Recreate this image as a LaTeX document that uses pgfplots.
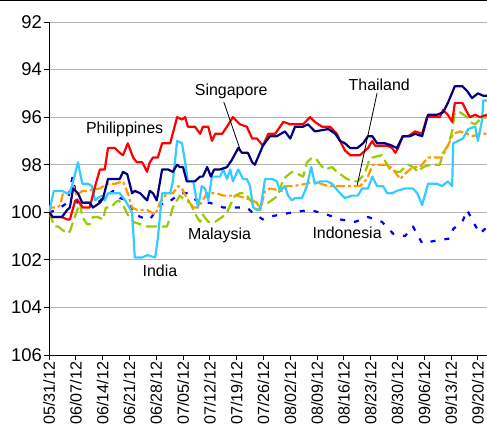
\documentclass[border=0pt]{standalone}
\usepackage{pgfplots}
\pgfplotsset{compat=1.18}
\usepackage{fontspec}
\setmainfont{Liberation Sans}
\definecolor{cPHL}{HTML}{FF0000}
\definecolor{cSGP}{HTML}{000080}
\definecolor{cIND}{HTML}{33CCFF}
\definecolor{cTHA}{HTML}{FF9900}
\definecolor{cMYS}{HTML}{99CC00}
\definecolor{cIDN}{HTML}{0000FF}
\definecolor{cgrid}{HTML}{B4B4B4}
\begin{document}
\begin{tikzpicture}
\begin{axis}[
  at={(0,0)}, anchor=south west,
  scale only axis, width=438bp, height=333bp,
  xmin=0, xmax=81.7, ymin=92, ymax=106, y dir=reverse,
  axis x line*=bottom, axis y line*=left,
  axis line style={black, line width=0.9bp, -},
  ytick={92,94,...,106},
  xtick={0,5,...,80},
  xticklabels={05/31/12,06/07/12,06/14/12,06/21/12,06/28/12,07/05/12,07/12/12,07/19/12,07/26/12,08/02/12,08/09/12,08/16/12,08/23/12,08/30/12,09/06/12,09/13/12,09/20/12},
  x tick label style={rotate=90, anchor=east, font=\fontsize{16.2}{18}\selectfont, inner sep=1.5bp},
  y tick label style={font=\fontsize{18.5}{20}\selectfont, inner sep=2bp},
  /pgf/number format/assume math mode=true,
  tick align=outside, major tick length=5bp,
  tick style={black, line width=0.8bp},
  ymajorgrids, major grid style={cgrid, line width=1bp},
  every axis plot/.append style={line width=2.2bp, line join=round},
  clip=true,
]
% Indonesia
\addplot[cIDN, dash pattern=on 5bp off 9bp] coordinates {
(0,100) (1.5,99.9) (3.4,99.6) (4.4,98.5) (5.4,99.7) (6.5,99.6) (9.1,99.6) (10.1,99.4) (12.0,99.1) (13.2,99.4) (14.7,99.5) (15.7,100.0) (16.0,100.1) (18.3,100.3) (18.8,100.3) (20.1,99.9) (21.3,99.6) (22.2,99.6) (23.9,99.3) (24.8,99.2) (25.7,99.2) (26.7,99.4) (27.6,99.5) (28.7,99.6) (30.0,99.6) (31.3,99.7) (32.5,99.8) (34.3,99.8) (36.9,99.8) (37.9,100.0) (39.9,100.3) (40.7,100.2) (43.1,100.1) (45.5,100.0) (48.7,99.9) (51.9,100.1) (54.3,100.3) (57.1,100.4) (59.5,100.2) (62.1,100.4) (64.2,100.9) (66.4,101.0) (67.9,100.6) (69.6,101.3) (72.0,101.2) (74.8,101.1) (75.4,100.7) (77.1,100.4) (78.0,99.9) (79.1,100.4) (80.4,100.9) (81.3,100.7) (81.7,100.8)
};
% Malaysia
\addplot[cMYS, dash pattern=on 11bp off 5bp] coordinates {
(0,100) (0.7,100.4) (1.1,100.6) (1.7,100.6) (3.4,100.9) (3.9,100.8) (4.5,100.4) (5.2,99.95) (5.8,99.6) (6.2,100.2) (7.1,100.5) (7.6,100.5) (8.2,100.2) (9.1,100.2) (10.1,100.3) (10.6,99.8) (11.6,99.8) (12.3,99.6) (13.0,99.5) (13.8,99.7) (14.7,100.1) (15.7,100.4) (18.3,100.6) (19.8,100.6) (22.0,100.6) (22.6,100.2) (23.1,99.8) (24.4,99.3) (25.4,99.5) (26.3,99.6) (27.6,100.2) (28.2,100.4) (28.7,100.1) (29.7,100.4) (31.0,100.4) (32.3,100.2) (33.2,100.0) (33.8,99.7) (34.7,99.3) (35.6,99.2) (36.6,99.2) (37.9,99.6) (38.1,99.8) (39.0,99.9) (39.9,99.6) (40.9,99.6) (42.7,99.3) (43.7,98.6) (45.3,98.3) (46.5,98.4) (47.4,98.5) (48.1,97.9) (49.1,97.7) (50.0,97.8) (50.6,98.0) (51.5,98.2) (52.8,98.1) (53.7,98.3) (55.6,98.6) (56.7,98.7) (57.6,98.7) (58.4,98.5) (59.0,98.3) (59.3,98.1) (59.9,97.7) (60.3,97.7) (62.1,97.6) (63.1,98.0) (63.6,98.2) (64.9,98.3) (65.5,98.3) (66.4,98.1) (67.0,98.0) (67.9,98.1) (68.8,98.3) (69.8,98.1) (71.1,98.0) (72.9,98.0) (73.5,97.5) (74.4,97.2) (75.2,96.6) (75.7,95.8) (76.7,95.8) (78.0,96.0) (78.5,96.2) (79.5,96.3) (80.4,96.1) (81.7,96.0)
};
% Thailand
\addplot[cTHA, dash pattern=on 9bp off 3bp on 3bp off 3bp] coordinates {
(0,100) (0.4,99.8) (1.5,99.8) (2.1,99.7) (2.6,99.2) (3.5,99.2) (4.5,98.9) (5.2,99.3) (6.2,99.1) (7.1,99.1) (9.5,99.0) (10.8,98.8) (12.3,98.8) (13.8,98.7) (14.7,99.2) (15.5,99.8) (16.4,99.9) (18.3,99.9) (19.8,100.1) (20.7,99.6) (22.0,99.2) (23.1,99.2) (24.1,98.9) (24.8,99.0) (25.7,99.4) (26.9,99.8) (27.8,99.8) (29.5,99.2) (31.3,99.2) (32.5,99.3) (35.1,99.3) (36.6,99.4) (37.9,99.5) (38.8,99.6) (39.4,99.9) (40.3,99.1) (41.2,99.0) (43.5,99.1) (44.4,98.9) (45.5,98.9) (48.1,98.8) (49.3,98.7) (52.1,98.9) (58.0,98.9) (59.3,98.6) (60.4,98.0) (63.2,98.0) (64.2,98.2) (65.5,98.6) (66.8,98.3) (67.9,98.1) (69.2,98.1) (70.7,97.7) (73.3,97.7) (74.4,97.2) (75.4,96.7) (76.7,96.6) (79.1,96.8) (80.4,96.7) (81.7,96.7)
};
% India
\addplot[cIND] coordinates {
(0,100) (0.9,99.1) (2.4,99.1) (3.4,99.2) (3.9,99.2) (4.5,98.7) (5.4,97.9) (6.2,98.8) (7.3,98.8) (8.0,98.9) (8.6,99.5) (9.1,99.4) (9.9,99.3) (10.4,99.5) (11.0,99.2) (13.2,99.2) (14.2,99.5) (15.5,100.0) (16.0,101.9) (17.4,101.9) (18.3,101.8) (19.8,101.9) (20.3,101.1) (21.1,99.2) (22.6,99.2) (23.1,98.7) (23.9,97.0) (24.8,97.1) (25.4,97.9) (25.9,98.7) (26.9,98.7) (27.8,99.8) (28.5,98.9) (29.1,99.0) (29.7,99.5) (30.4,98.5) (31.9,98.5) (32.5,98.2) (33.2,98.6) (33.8,98.2) (34.3,98.7) (35.3,98.2) (36.2,98.6) (36.9,98.6) (37.5,98.9) (38.1,99.8) (38.8,99.9) (39.4,99.9) (40.3,98.6) (41.6,98.6) (42.5,98.7) (43.1,99.1) (44.0,98.9) (44.6,99.3) (45.3,99.5) (45.9,99.4) (47.2,99.4) (48.1,98.9) (48.9,98.1) (49.6,98.8) (50.6,98.7) (51.9,98.7) (52.8,98.8) (53.9,99.1) (54.7,99.3) (55.2,99.4) (56.5,99.3) (57.6,99.3) (58.4,99.0) (59.5,99.0) (60.3,98.5) (61.2,98.9) (62.3,98.9) (63.1,99.2) (64.0,99.2) (64.9,99.1) (66.4,99.0) (67.9,99.0) (68.7,99.2) (69.6,99.7) (70.7,98.8) (72.4,98.8) (73.3,98.9) (74.4,98.7) (75.2,98.9) (75.4,97.1) (77.2,96.9) (78.2,96.5) (79.5,96.4) (80.0,97.0) (80.8,96.1) (81.0,95.3) (81.7,95.3)
};
% Philippines
\addplot[cPHL] coordinates {
(0,100.0) (0.7,100.2) (2.4,100.2) (3.4,100.3) (3.9,100.3) (4.9,99.5) (5.4,99.5) (6.3,99.8) (7.6,99.8) (8.6,98.9) (9.5,98.2) (10.4,98.2) (11.0,97.3) (12.3,97.3) (13.2,97.5) (13.8,97.6) (14.7,97.1) (15.7,97.7) (16.4,97.9) (17.4,97.9) (18.3,98.3) (18.8,97.9) (19.4,97.7) (20.3,97.7) (21.1,97.1) (22.6,97.1) (23.9,96.0) (24.8,96.1) (25.4,96.0) (25.9,96.4) (27.2,96.4) (28.2,96.7) (28.7,96.4) (29.7,96.4) (30.4,97.0) (31.0,96.7) (32.3,96.7) (33.2,96.4) (34.3,96.0) (35.6,96.3) (36.9,96.4) (37.9,96.9) (38.8,96.9) (39.9,97.2) (40.9,96.7) (42.2,96.7) (43.7,96.2) (45.0,96.3) (47.4,96.3) (48.7,96.0) (49.6,96.2) (50.9,96.4) (52.4,96.4) (53.7,96.7) (54.3,97.0) (55.2,97.4) (56.2,97.6) (58.0,97.6) (59.5,97.3) (60.3,97.0) (60.8,97.2) (63.1,97.2) (64.0,97.3) (64.6,97.5) (65.1,97.3) (66.0,96.8) (67.0,96.8) (68.3,96.6) (69.6,96.7) (70.5,96.0) (72.9,96.0) (73.5,95.7) (74.4,95.9) (75.2,96.2) (75.7,95.4) (77.1,95.4) (78.0,95.8) (78.5,96.0) (79.5,95.9) (80.4,96.0) (81.7,95.9)
};
% Singapore
\addplot[cSGP] coordinates {
(0,100) (0.7,100.2) (2.4,100.2) (3.4,99.9) (3.9,99.8) (4.5,99.0) (5.4,99.2) (6.2,99.6) (7.6,99.6) (8.2,99.8) (9.5,99.6) (10.1,99.4) (11.0,98.6) (12.3,98.6) (13.2,98.6) (13.8,98.3) (14.6,98.4) (15.5,99.2) (16.0,99.1) (17.0,99.2) (18.3,99.5) (18.8,99.1) (19.4,99.2) (20.1,99.5) (21.1,98.2) (22.2,98.2) (23.1,98.3) (23.9,98.0) (24.4,98.1) (25.0,98.1) (25.7,98.7) (27.2,98.7) (28.2,98.5) (28.7,98.5) (29.5,98.1) (30.2,98.5) (30.8,98.2) (31.9,98.2) (33.2,98.1) (34.1,97.8) (35.3,97.3) (36.0,97.5) (37.1,97.5) (37.9,97.9) (38.4,98.0) (39.9,97.2) (41.2,96.8) (42.5,96.8) (44.0,96.6) (45.0,96.9) (45.9,96.4) (47.4,96.4) (48.3,96.3) (49.6,96.6) (52.1,96.5) (53.4,96.7) (54.3,97.0) (55.2,97.1) (56.2,97.3) (57.5,97.3) (58.6,97.1) (59.5,96.8) (60.3,96.8) (61.2,97.1) (62.7,97.1) (64.0,97.2) (64.9,97.3) (66.0,96.8) (67.4,96.8) (68.3,96.7) (69.6,96.8) (70.7,95.9) (72.4,95.9) (73.5,95.8) (74.4,95.4) (75.7,94.7) (77.1,94.7) (78.0,94.9) (78.9,95.2) (80.0,95.0) (81.0,95.1) (81.7,95.1)
};
% labels
\begin{scope}[every node/.style={font=\fontsize{16}{18}\selectfont, inner sep=0pt}]
\node at (axis cs:14.1,96.5) {Philippines};
\node at (axis cs:34.0,94.9) {Singapore};
\draw[black, line width=0.8bp] (axis cs:32.6,95.36) -- (axis cs:35.8,97.46);
\node at (axis cs:61.6,94.65) {Thailand};
\draw[black, line width=0.8bp] (axis cs:61.2,94.98) -- (axis cs:57.5,98.85);
\node at (axis cs:31.8,100.95) {Malaysia};
\node at (axis cs:55.6,100.87) {Indonesia};
\node at (axis cs:20.7,102.45) {India};
\end{scope}
\end{axis}
\draw[black, line width=1.2bp] (-49bp,354.4bp) -- (438bp,354.4bp);
\pgfresetboundingbox
\path[use as bounding box] (-49bp,-75bp) rectangle (438bp,355bp);
\end{tikzpicture}
\end{document}
